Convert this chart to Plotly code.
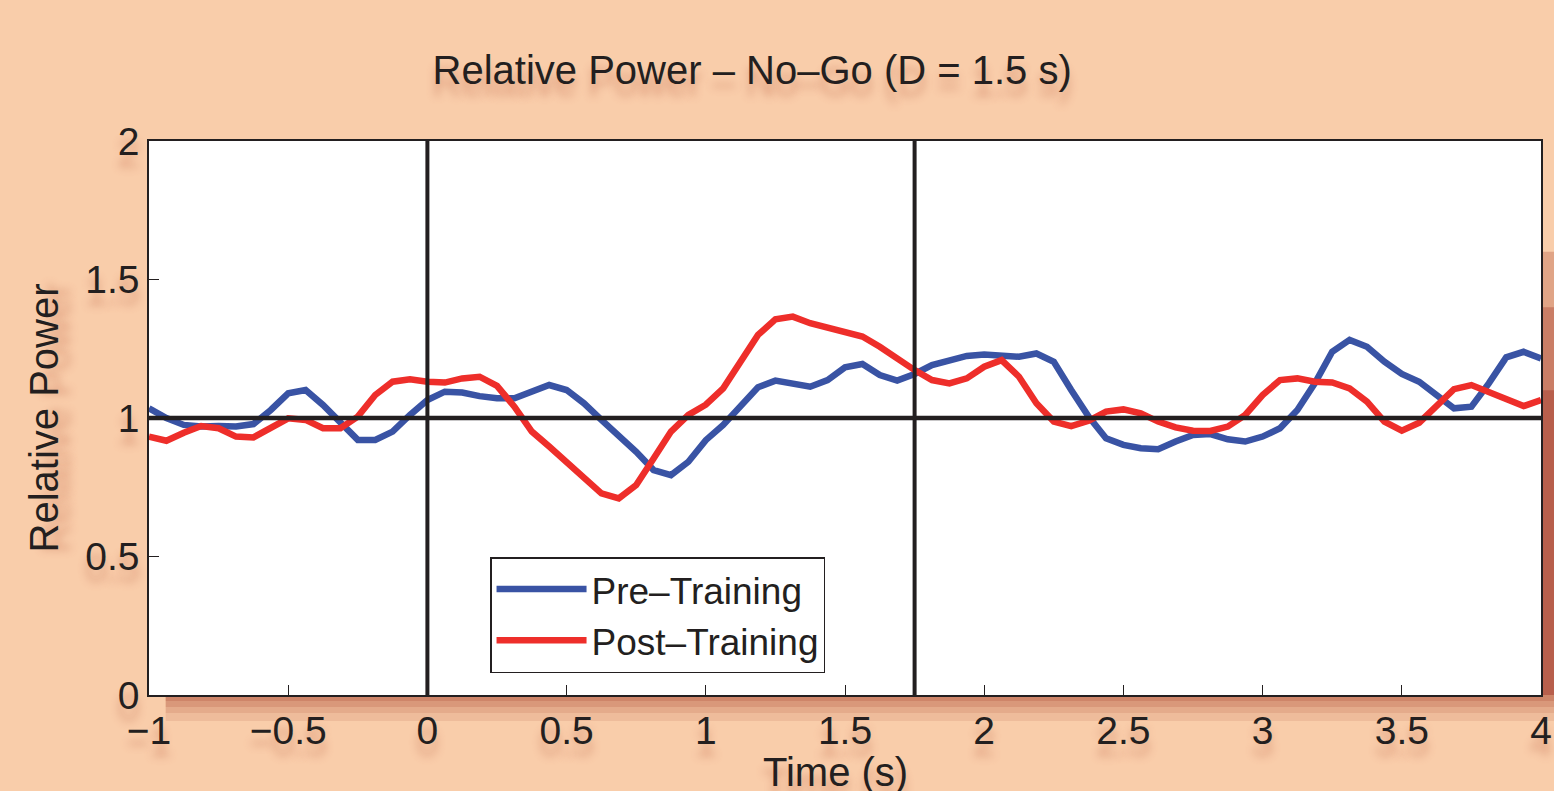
import plotly.graph_objects as go

# ---- data ----
time_s = [
    -1.0, -0.9375, -0.875, -0.8125, -0.75, -0.6875, -0.625, -0.5625,
    -0.5, -0.4375, -0.375, -0.3125, -0.25, -0.1875, -0.125, -0.0625,
    0.0, 0.0625, 0.125, 0.1875, 0.25, 0.3125, 0.375, 0.4375,
    0.5, 0.5625, 0.625, 0.6875, 0.75, 0.8125, 0.875, 0.9375,
    1.0, 1.0625, 1.125, 1.1875, 1.25, 1.3125, 1.375, 1.4375,
    1.5, 1.5625, 1.625, 1.6875, 1.75, 1.8125, 1.875, 1.9375,
    2.0, 2.0625, 2.125, 2.1875, 2.25, 2.3125, 2.375, 2.4375,
    2.5, 2.5625, 2.625, 2.6875, 2.75, 2.8125, 2.875, 2.9375,
    3.0, 3.0625, 3.125, 3.1875, 3.25, 3.3125, 3.375, 3.4375,
    3.5, 3.5625, 3.625, 3.6875, 3.75, 3.8125, 3.875, 3.9375,
    4.0,
]

pre_training = [
    1.035, 1.000, 0.975, 0.969, 0.971, 0.969, 0.978, 1.029,
    1.089, 1.101, 1.047, 0.987, 0.921, 0.921, 0.951, 1.011,
    1.065, 1.095, 1.092, 1.079, 1.071, 1.071, 1.095, 1.119,
    1.101, 1.053, 0.993, 0.939, 0.878, 0.812, 0.794, 0.842,
    0.920, 0.975, 1.047, 1.111, 1.135, 1.123, 1.113, 1.137,
    1.183, 1.195, 1.155, 1.135, 1.159, 1.191, 1.207, 1.224,
    1.229, 1.227, 1.221, 1.233, 1.203, 1.101, 1.005, 0.927,
    0.903, 0.891, 0.887, 0.915, 0.939, 0.942, 0.923, 0.915,
    0.933, 0.963, 1.029, 1.125, 1.239, 1.282, 1.257, 1.203,
    1.159, 1.131, 1.083, 1.035, 1.041, 1.125, 1.219, 1.239,
    1.215,
]

post_training = [
    0.933, 0.918, 0.947, 0.971, 0.963, 0.933, 0.930, 0.963,
    0.999, 0.993, 0.963, 0.963, 1.005, 1.083, 1.131, 1.140,
    1.131, 1.128, 1.143, 1.149, 1.116, 1.041, 0.951, 0.897,
    0.842, 0.782, 0.728, 0.710, 0.758, 0.854, 0.951, 1.011,
    1.048, 1.107, 1.203, 1.300, 1.356, 1.366, 1.342, 1.326,
    1.312, 1.294, 1.257, 1.212, 1.173, 1.137, 1.125, 1.143,
    1.185, 1.209, 1.149, 1.053, 0.987, 0.971, 0.990, 1.023,
    1.031, 1.017, 0.987, 0.966, 0.954, 0.953, 0.969, 1.011,
    1.083, 1.137, 1.143, 1.131, 1.128, 1.107, 1.059, 0.987,
    0.954, 0.983, 1.043, 1.104, 1.119, 1.095, 1.065, 1.043,
    1.065,
]

series_names = ["Pre\u2013Training", "Post\u2013Training"]
event_times = [0, 1.75]
baseline = [1]
x_ticks = [-1, -0.5, 0, 0.5, 1, 1.5, 2, 2.5, 3, 3.5, 4]
y_ticks = [0, 0.5, 1, 1.5, 2]

# ---- styling ----
BG = "#F9CDAA"
INK = "#231F20"
BLUE = "#3953A4"
RED = "#EE2E2A"
FONT = "Liberation Sans, Arial, sans-serif"
SHADOW = "0px 12px 9px rgba(190,100,70,0.45)"

fig = go.Figure()
fig.add_trace(go.Scatter(x=time_s, y=pre_training, mode="lines",
                         name=series_names[0],
                         line=dict(color=BLUE, width=6.5)))
fig.add_trace(go.Scatter(x=time_s, y=post_training, mode="lines",
                         name=series_names[1],
                         line=dict(color=RED, width=6.5)))

for t in event_times:
    fig.add_vline(x=t, line=dict(color=INK, width=4), layer="above")
for b in baseline:
    fig.add_hline(y=b, line=dict(color=INK, width=4.5), layer="above")

# soft shadow under the axes box and along its right edge
px_y = 1 / 554
px_x = 1 / 1392
for h, op in [(26, 0.12), (18, 0.14), (12, 0.18), (6, 0.22)]:
    fig.add_shape(type="rect", xref="paper", yref="paper",
                  x0=0.012, x1=1 + 13 * px_x, y0=-h * px_y, y1=0,
                  fillcolor="#A8442E", opacity=op, line_width=0,
                  layer="below")
for top, op in [(0.8, 0.35), (0.7, 0.5), (0.55, 0.8)]:
    fig.add_shape(type="rect", xref="paper", yref="paper",
                  x0=1 + 2 * px_x, x1=1 + 13 * px_x, y0=0, y1=top,
                  fillcolor="#B35846", opacity=op, line_width=0,
                  layer="below")

axis_common = dict(
    showgrid=False, zeroline=False, automargin=False,
    showline=True, linecolor=INK, linewidth=1.5, mirror=True,
    ticks="inside", ticklen=10, tickwidth=1, tickcolor=INK,
    tickfont=dict(family=FONT, size=39, color=INK, shadow=SHADOW),
)

fig.update_xaxes(range=[-1, 4], tickvals=x_ticks, **axis_common)
fig.update_yaxes(range=[0, 2], tickvals=y_ticks, **axis_common,
                 title=dict(text="Relative Power", standoff=14,
                            font=dict(family=FONT, size=40, color=INK,
                                      shadow=SHADOW)))

# x-axis title (placed as annotation so it sits just below the tick labels)
fig.add_annotation(text="Time (s)", xref="paper", yref="paper",
                   x=0.493, y=-(772 - 695) / 554, xanchor="center",
                   yanchor="middle", showarrow=False,
                   font=dict(family=FONT, size=40, color=INK, shadow=SHADOW))

fig.update_layout(
    width=1554, height=791,
    paper_bgcolor=BG, plot_bgcolor="white",
    margin=dict(l=149, r=13, t=141, b=96, autoexpand=False),
    title=dict(text="Relative Power \u2013 No\u2013Go (D = 1.5 s)",
               x=0.484, xanchor="center", xref="container",
               y=0.911, yanchor="middle", yref="container",
               font=dict(family=FONT, size=40, color=INK, shadow=SHADOW)),
    legend=dict(x=0.245, y=0.249, xanchor="left", yanchor="top",
                bgcolor="white", bordercolor=INK, borderwidth=1.5,
                font=dict(family=FONT, size=37, color=INK),
                itemwidth=90),
    showlegend=True,
)

fig.write_html("out.html")
